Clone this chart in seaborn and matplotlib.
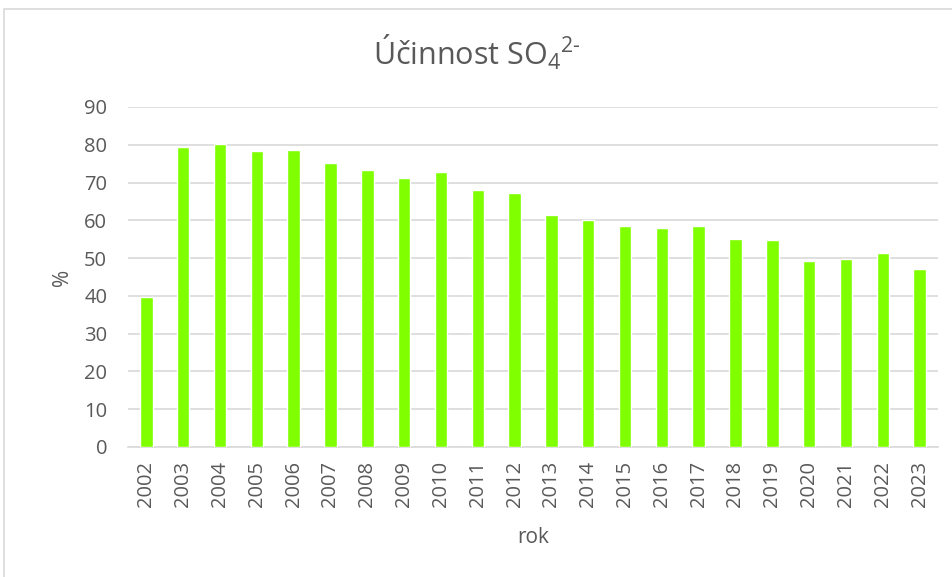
"""Bar chart of SO4 2- removal efficiency by year."""

import matplotlib

matplotlib.use("Agg")
import matplotlib.pyplot as plt  # noqa: E402
import pandas as pd  # noqa: E402
import seaborn as sns  # noqa: E402

years = [str(y) for y in range(2002, 2024)]
efficiency = [39.6, 79.3, 80.3, 78.4, 78.5, 75.1, 73.4, 71.2, 72.9, 68.0, 67.2,
              61.4, 60.1, 58.6, 58.0, 58.5, 55.0, 54.8, 49.3, 49.7, 51.3, 47.2]
y_ticks = list(range(0, 100, 10))

TEXT = "#595959"
GRID = "#d9d9d9"

sns.set_theme(style="white")
plt.rcParams["font.family"] = ["Open Sans", "DejaVu Sans"]
plt.rcParams["mathtext.fontset"] = "custom"
plt.rcParams["mathtext.rm"] = "Open Sans"

df = pd.DataFrame({"rok": years, "pct": efficiency})

fig = plt.figure(figsize=(9.53, 5.77), dpi=100)
ax = fig.add_axes([128 / 953, 1 - 447 / 577, (938 - 128) / 953, (447 - 107) / 577])

sns.barplot(data=df, x="rok", y="pct", color="#7FFF00", width=0.34,
            saturation=1, ax=ax, zorder=3)

ax.set_ylim(0, 90)
ax.set_yticks(y_ticks)
ax.yaxis.grid(True, color=GRID, linewidth=1.2, zorder=0)
ax.set_axisbelow(True)
for side in ["top", "right", "left"]:
    ax.spines[side].set_visible(False)
ax.spines["bottom"].set_color(GRID)
ax.spines["bottom"].set_linewidth(1.2)
ax.tick_params(axis="both", length=0, colors=TEXT, labelsize=14.5)
ax.tick_params(axis="x", rotation=90, pad=10)
ax.tick_params(axis="y", pad=15)

ax.set_xlabel("rok", color=TEXT, fontsize=15, labelpad=14)
ax.set_ylabel("%", color=TEXT, fontsize=15, labelpad=8)

fig.text(0.5, 1 - 52 / 577, r"Účinnost SO$\mathregular{_4}$$\mathregular{^{2\text{-}}}$",
         ha="center", va="center", color=TEXT, fontsize=22)

# light frame around the chart like the spreadsheet export
frame = plt.Rectangle((4 / 953, -0.01), 1.0, 1 - 9 / 577 + 0.01,
                      transform=fig.transFigure, fill=False,
                      edgecolor=GRID, linewidth=1.2)
fig.patches.append(frame)

fig.savefig("out.png", dpi=100)
plt.close(fig)
